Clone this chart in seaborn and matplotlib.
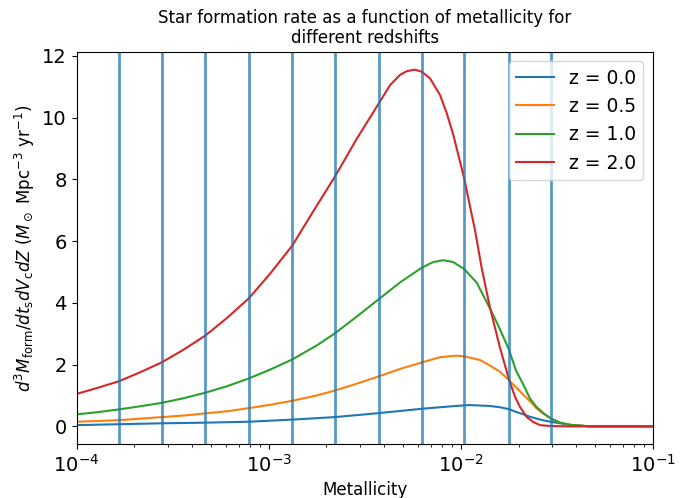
import numpy as np
import pandas as pd
import matplotlib
matplotlib.use('Agg')
import matplotlib.pyplot as plt
import seaborn as sns

# values
redshifts = ['z = 0.0', 'z = 0.5', 'z = 1.0', 'z = 2.0']

Z_z00 = [1.00e-4, 1.66e-4, 2.77e-4, 4.68e-4, 7.87e-4, 1.33e-3, 2.21e-3, 3.75e-3,
         6.28e-3, 7.80e-3, 1.04e-2, 1.12e-2, 1.42e-2, 1.60e-2, 1.78e-2, 1.94e-2,
         2.12e-2, 2.30e-2, 2.49e-2, 2.72e-2, 2.96e-2, 3.29e-2, 3.71e-2, 4.71e-2,
         1.00e-1]
sfr_z00 = [0.04, 0.07, 0.10, 0.12, 0.15, 0.22, 0.30, 0.43,
           0.57, 0.62, 0.68, 0.69, 0.66, 0.62, 0.56, 0.47,
           0.39, 0.31, 0.25, 0.19, 0.145, 0.10, 0.05, 0.0,
           0.0]

Z_z05 = [1.00e-4, 1.66e-4, 2.14e-4, 2.77e-4, 3.60e-4, 4.68e-4, 6.07e-4, 7.87e-4,
         1.02e-3, 1.33e-3, 1.78e-3, 2.21e-3, 2.87e-3, 3.75e-3, 4.83e-3, 6.28e-3,
         7.80e-3, 9.53e-3, 1.04e-2, 1.26e-2, 1.42e-2, 1.60e-2, 1.78e-2, 1.94e-2,
         2.12e-2, 2.30e-2, 2.49e-2, 2.72e-2, 2.96e-2, 3.29e-2, 3.71e-2, 4.71e-2,
         1.00e-1]
sfr_z05 = [0.15, 0.20, 0.25, 0.30, 0.35, 0.42, 0.49, 0.59,
           0.70, 0.83, 1.00, 1.16, 1.38, 1.62, 1.86, 2.07,
           2.24, 2.29, 2.27, 2.15, 1.97, 1.77, 1.50, 1.27,
           1.02, 0.81, 0.57, 0.39, 0.25, 0.12, 0.05, 0.0,
           0.0]

Z_z10 = [1.00e-4, 1.29e-4, 1.66e-4, 2.14e-4, 2.77e-4, 3.60e-4, 4.68e-4, 6.07e-4,
         7.87e-4, 1.02e-3, 1.33e-3, 1.78e-3, 2.21e-3, 2.87e-3, 3.75e-3, 4.83e-3,
         6.28e-3, 7.19e-3, 8.11e-3, 9.14e-3, 1.04e-2, 1.21e-2, 1.42e-2, 1.57e-2,
         1.78e-2, 1.94e-2, 2.12e-2, 2.30e-2, 2.49e-2, 2.72e-2, 2.96e-2, 3.29e-2,
         3.71e-2, 4.71e-2, 1.00e-1]
sfr_z10 = [0.39, 0.46, 0.55, 0.65, 0.76, 0.91, 1.09, 1.30,
           1.55, 1.84, 2.17, 2.62, 3.01, 3.55, 4.12, 4.66,
           5.14, 5.32, 5.38, 5.32, 5.10, 4.66, 3.82, 3.26,
           2.50, 1.81, 1.35, 0.89, 0.62, 0.41, 0.25, 0.12,
           0.05, 0.0, 0.0]

Z_z20 = [1.00e-4, 1.29e-4, 1.66e-4, 2.14e-4, 2.77e-4, 3.60e-4, 4.68e-4, 6.07e-4,
         7.87e-4, 1.02e-3, 1.33e-3, 1.71e-3, 2.21e-3, 2.87e-3, 3.75e-3, 4.29e-3,
         4.83e-3, 5.24e-3, 5.78e-3, 6.28e-3, 6.92e-3, 7.80e-3, 8.45e-3, 9.15e-3,
         1.04e-2, 1.19e-2, 1.285e-2, 1.42e-2, 1.60e-2, 1.78e-2, 1.92e-2, 2.04e-2,
         2.21e-2, 2.39e-2, 2.59e-2, 2.96e-2, 3.71e-2, 1.00e-1]
sfr_z20 = [1.05, 1.25, 1.46, 1.75, 2.07, 2.48, 2.94, 3.51,
           4.14, 4.95, 5.86, 6.97, 8.08, 9.30, 10.46, 11.05,
           11.38, 11.50, 11.55, 11.48, 11.27, 10.73, 10.15, 9.44,
           8.06, 6.32, 5.14, 3.85, 2.56, 1.54, 0.95, 0.62,
           0.30, 0.14, 0.04, 0.01, 0.0, 0.0]

# metallicity bin edges (vertical lines)
bin_edges = [1.66e-4, 2.77e-4, 4.67e-4, 7.87e-4, 1.33e-3, 2.21e-3,
             3.76e-3, 6.28e-3, 1.04e-2, 1.78e-2, 2.96e-2]

# long format table for seaborn
frames = []
for label, Z, sfr in zip(redshifts, [Z_z00, Z_z05, Z_z10, Z_z20],
                         [sfr_z00, sfr_z05, sfr_z10, sfr_z20]):
    frames.append(pd.DataFrame({'Z': Z, 'sfr': sfr, 'redshift': label}))
df = pd.concat(frames, ignore_index=True)

fig = plt.figure(figsize=(6.9, 4.98), dpi=100)
ax = fig.add_axes([0.111, 0.108, 0.835, 0.788])

sns.lineplot(data=df, x='Z', y='sfr', hue='redshift', hue_order=redshifts,
             palette=['C0', 'C1', 'C2', 'C3'], estimator=None, sort=True,
             linewidth=1.5, ax=ax)

for edge in bin_edges:
    ax.axvline(edge, color='C0', linewidth=2, alpha=0.75)

ax.set_xscale('log')
ax.set_xlim(1e-4, 1e-1)
ax.tick_params(axis='both', labelsize=14)
ax.set_xlabel('Metallicity', fontsize=12)
ax.set_ylabel(r'$d^3M_\mathrm{form}/dt_\mathrm{s}dV_\mathrm{c}dZ\ (M_\odot\ \mathrm{Mpc}^{-3}\ \mathrm{yr}^{-1})$',
              fontsize=12)
ax.set_title('Star formation rate as a function of metallicity for\ndifferent redshifts',
             fontsize=12)
ax.legend(loc='upper right', fontsize=13.5, title=None)

plt.savefig('out.png', dpi=100)
plt.close()
